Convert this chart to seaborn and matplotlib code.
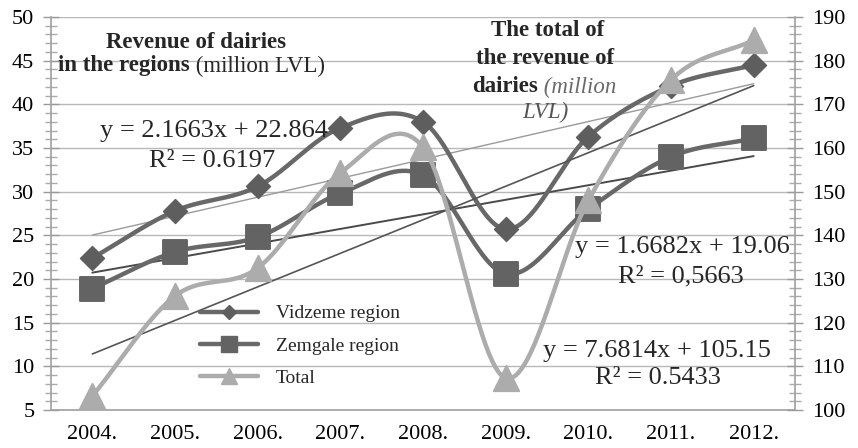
import numpy as np
import pandas as pd
import seaborn as sns
import matplotlib.pyplot as plt
from matplotlib.lines import Line2D
from matplotlib.ticker import MultipleLocator

# data
years = ["2004.", "2005.", "2006.", "2007.", "2008.", "2009.", "2010.", "2011.", "2012."]
vidzeme = [22.4, 27.8, 30.6, 37.3, 38.0, 25.7, 36.3, 42.1, 44.5]
zemgale = [18.9, 23.1, 24.8, 29.8, 31.9, 20.6, 28.0, 34.0, 36.1]
total = [103.2, 126.1, 132.5, 154.3, 160.2, 107.3, 148.0, 175.6, 184.7]

# trend line coefficients as printed on the chart (slope, intercept)
trend_vidzeme = (2.1663, 22.864)
trend_zemgale = (1.6682, 19.06)
trend_total = (7.6814, 105.15)

sns.set_style("white")
plt.rcParams['font.family'] = ['Liberation Serif', 'DejaVu Serif']

W, H = 858, 448
fig = plt.figure(figsize=(W / 100, H / 100), dpi=100)
ax = fig.add_axes([51 / W, 1 - 410 / H, 744 / W, 393 / H])
ax2 = ax.twinx()

x = np.arange(1, len(years) + 1)


def smooth(xs, ys, n=40):
    # Catmull-Rom curve through the points, like Excel's smoothed line
    pts = np.column_stack([xs, ys]).astype(float)
    p = np.vstack([2 * pts[0] - pts[1], pts, 2 * pts[-1] - pts[-2]])
    out = []
    t = np.linspace(0, 1, n, endpoint=False)[:, None]
    for i in range(1, len(p) - 2):
        p0, p1, p2, p3 = p[i - 1], p[i], p[i + 1], p[i + 2]
        seg = 0.5 * (2 * p1 + (-p0 + p2) * t + (2 * p0 - 5 * p1 + 4 * p2 - p3) * t ** 2
                     + (-p0 + 3 * p1 - 3 * p2 + p3) * t ** 3)
        out.append(seg)
    out.append(pts[-1:])
    c = np.vstack(out)
    return pd.DataFrame({"x": c[:, 0], "y": c[:, 1]})


dark = "#686868"
light = "#acacac"

# grid
for v in range(5, 51, 5):
    ax.axhline(v, color="#b8b8b8", lw=1, zorder=0)

# trend lines
xt = np.array([1, 9])
sns.lineplot(x=xt, y=trend_vidzeme[0] * xt + trend_vidzeme[1], ax=ax, color="#9a9a9a", lw=1)
sns.lineplot(x=xt, y=trend_zemgale[0] * xt + trend_zemgale[1], ax=ax, color="#4a4a4a", lw=1.4)
sns.lineplot(x=xt, y=trend_total[0] * xt + trend_total[1], ax=ax2, color="#555555", lw=1.2)

# smoothed series
sv = smooth(x, vidzeme)
sz = smooth(x, zemgale)
st = smooth(x, total)
sns.lineplot(data=sv, x="x", y="y", ax=ax, color=dark, lw=3.2, sort=False)
sns.lineplot(data=sz, x="x", y="y", ax=ax, color=dark, lw=3.2, sort=False)
sns.scatterplot(x=x, y=vidzeme, ax=ax, marker="D", s=150, color="#5e5e5e", edgecolor="#5e5e5e", zorder=5)
sns.scatterplot(x=x, y=zemgale, ax=ax, marker="s", s=300, color="#636363", edgecolor="#636363", zorder=5)
sns.lineplot(data=st, x="x", y="y", ax=ax2, color=light, lw=3.2, sort=False)
sns.scatterplot(x=x, y=total, ax=ax2, marker="^", s=330, color=light, edgecolor=light, zorder=5)

# axes
ax.set_xlim(0.5, 9.5)
ax.set_ylim(5, 50)
ax2.set_ylim(100, 190)
ax.set_xticks(x)
ax.set_xticklabels(years)
ax.set_xticks(np.arange(0.5, 10, 1), minor=True)
ax.yaxis.set_major_locator(MultipleLocator(5))
ax.yaxis.set_minor_locator(MultipleLocator(1))
ax2.yaxis.set_major_locator(MultipleLocator(10))
ax2.yaxis.set_minor_locator(MultipleLocator(2))
ax.set_xlabel("")
ax.set_ylabel("")
ax2.set_ylabel("")

for a in (ax, ax2):
    for s in a.spines.values():
        s.set_visible(False)
    a.tick_params(colors="#999999", labelcolor="black", labelsize=16)
ax.spines["left"].set_visible(True)
ax.spines["bottom"].set_visible(True)
ax2.spines["right"].set_visible(True)
for a in (ax, ax2):
    for s in a.spines.values():
        s.set_color("#a0a0a0")
        s.set_linewidth(1.2)

ax.tick_params(axis="y", which="major", direction="inout", length=12, width=1, pad=6)
ax.tick_params(axis="y", which="minor", direction="inout", length=8, width=1, colors="#aaaaaa")
ax.tick_params(axis="x", which="both", direction="out", length=6, width=1, pad=5)
ax2.tick_params(axis="y", which="major", direction="inout", length=12, width=1, pad=6)
ax2.tick_params(axis="y", which="minor", direction="inout", length=8, width=1, colors="#aaaaaa")

# texts
def fx(px):
    return px / W


def fy(py):
    return 1 - py / H


fig.text(fx(196), fy(42), "Revenue of dairies", ha="center", va="center", fontsize=16.5, fontweight="bold")
t1 = fig.text(fx(58), fy(66), "in the regions", ha="left", va="center", fontsize=16.5, fontweight="bold")
ax.annotate(" (million LVL)", xy=(1, 0.5), xycoords=t1, va="center", ha="left", fontsize=16.5)

fig.text(fx(548), fy(31), "The total of", ha="center", va="center", fontsize=16.5, fontweight="bold")
fig.text(fx(545), fy(58), "the revenue of", ha="center", va="center", fontsize=16.5, fontweight="bold")
t2 = fig.text(fx(538), fy(87), "dairies", ha="right", va="center", fontsize=16.5, fontweight="bold")
ax.annotate(" (million", xy=(1, 0.5), xycoords=t2, va="center", ha="left", fontsize=16.5,
            fontstyle="italic", color="#6a6a6a")
fig.text(fx(545), fy(112), "LVL)", ha="center", va="center", fontsize=16.5, fontstyle="italic", color="#555555")

eq = dict(ha="center", va="center", fontsize=19)
fig.text(fx(214), fy(131), "y = 2.1663x + 22.864", **eq)
fig.text(fx(212), fy(161), "R² = 0.6197", **eq)
fig.text(fx(682), fy(247), "y = 1.6682x + 19.06", **eq)
fig.text(fx(681), fy(276), "R² = 0,5663", **eq)
fig.text(fx(657), fy(351), "y = 7.6814x + 105.15", **eq)
fig.text(fx(658), fy(378), "R² = 0.5433", **eq)

# legend
handles = [
    Line2D([], [], color=dark, lw=3.2, marker="D", markersize=7, markerfacecolor="#5e5e5e", markeredgecolor="#5e5e5e"),
    Line2D([], [], color=dark, lw=3.2, marker="s", markersize=12, markerfacecolor="#636363", markeredgecolor="#636363"),
    Line2D([], [], color=light, lw=3.2, marker="^", markersize=12, markerfacecolor=light, markeredgecolor=light),
]
ax2.legend(handles, ["Vidzeme region", "Zemgale region", "Total"], loc="upper left",
           bbox_to_anchor=(fx(190), fy(295)), bbox_transform=fig.transFigure,
           frameon=False, fontsize=14, handlelength=3.0, labelspacing=0.75, handletextpad=0.9,
           borderpad=0)

fig.savefig("out.png", dpi=100)
